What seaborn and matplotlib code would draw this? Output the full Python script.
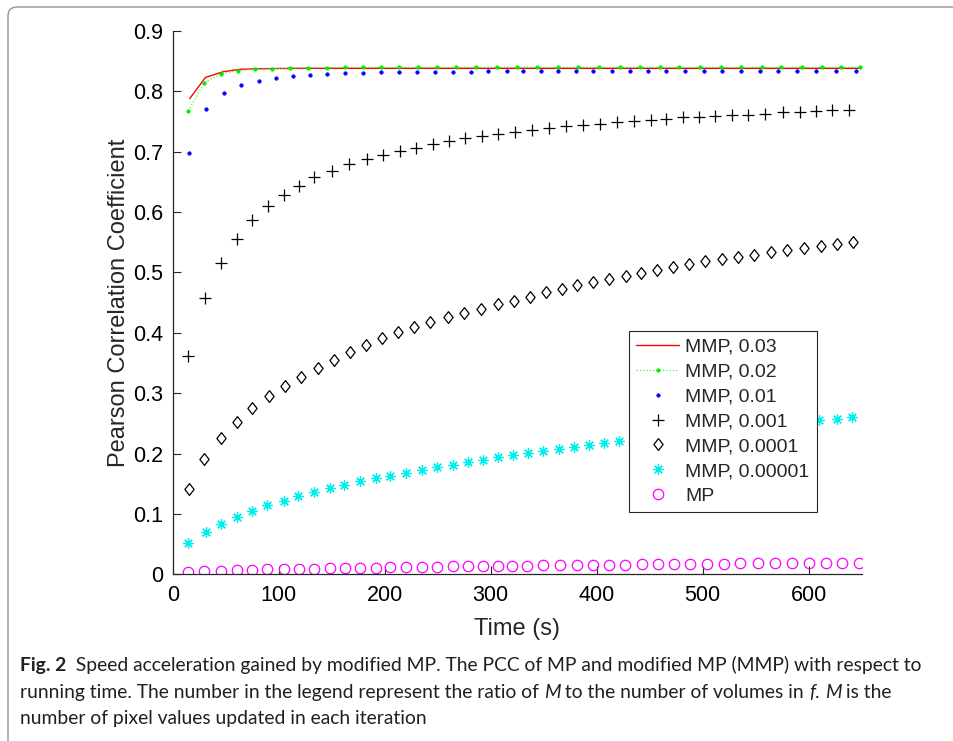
import matplotlib
matplotlib.use("Agg")
import matplotlib.pyplot as plt
from matplotlib.patches import FancyBboxPatch
from matplotlib.transforms import IdentityTransform
import seaborn as sns

# ---------------- data ----------------
red_t = [16, 31, 48, 64, 81, 98, 115, 132, 150, 167, 184, 202, 219, 237, 254, 272, 289, 307, 324,
         342, 359, 377, 394, 412, 429, 447, 464, 482, 499, 517, 534, 552, 569, 587, 604, 622, 639, 650]
red_v = [0.7875, 0.8228, 0.8322, 0.8361, 0.8370, 0.8374, 0.8376, 0.8377, 0.8377, 0.8377, 0.8377,
         0.8377, 0.8377, 0.8377, 0.8377, 0.8377, 0.8377, 0.8377, 0.8377, 0.8377, 0.8377, 0.8377,
         0.8377, 0.8377, 0.8377, 0.8377, 0.8377, 0.8377, 0.8377, 0.8377, 0.8377, 0.8377, 0.8377,
         0.8377, 0.8377, 0.8377, 0.8377, 0.8377]

green_t = [14.7, 29.8, 45.3, 61.9, 77.6, 94.0, 110.7, 127.7, 145.3, 162.3, 179.3, 196.2, 213.5,
           231.1, 249.6, 267.2, 285.8, 305.9, 325.0, 344.0, 363.8, 382.4, 402.2, 422.0, 440.8,
           459.4, 477.9, 497.7, 517.0, 535.8, 555.7, 573.6, 594.0, 612.5, 630.2, 648.7]
green_v = [0.767, 0.814, 0.828, 0.834, 0.836, 0.8372, 0.8377, 0.8388, 0.8390, 0.8392, 0.8394,
           0.8394, 0.8394, 0.8394, 0.8394, 0.8394, 0.8394, 0.8394, 0.8394, 0.8394, 0.8394, 0.8394,
           0.8394, 0.8394, 0.8394, 0.8394, 0.8394, 0.8394, 0.8394, 0.8394, 0.8394, 0.8394, 0.8394,
           0.8394, 0.8394, 0.8394]

blue_t = [15.4, 31.1, 48.1, 64.7, 81.1, 97.2, 113.2, 129.5, 145.8, 162.8, 179.8, 196.8, 213.5,
          230.8, 247.7, 264.4, 281.4, 297.7, 315.1, 330.8, 347.2, 363.2, 380.2, 396.8, 414.2,
          431.4, 448.7, 465.7, 483.3, 500.9, 518.5, 536.4, 554.0, 571.3, 589.0, 606.6, 626.0, 644.6]
blue_v = [0.698, 0.7709, 0.7975, 0.8101, 0.8172, 0.8217, 0.8250, 0.8267, 0.8283, 0.8294, 0.8305,
          0.8311, 0.8316, 0.8318, 0.8320, 0.8322, 0.8323, 0.8325, 0.8327, 0.8327, 0.8328, 0.8328,
          0.8328, 0.8328, 0.8328, 0.8328, 0.8328, 0.8328, 0.8328, 0.8328, 0.8328, 0.8328, 0.8328,
          0.8328, 0.8328, 0.8328, 0.8328, 0.8328]

plus_t = [14.7, 30.5, 45.6, 60.4, 75.1, 89.6, 104.7, 118.9, 133.6, 150.3, 166.6, 183.0, 198.7,
          214.4, 229.5, 245.6, 260.9, 276.0, 291.5, 307.2, 323.0, 338.7, 355.3, 371.0, 387.4,
          403.1, 419.2, 435.2, 450.9, 465.4, 481.4, 496.2, 511.9, 527.6, 542.5, 558.5, 575.5,
          591.5, 607.2, 622.3, 638.3]
plus_v = [0.3614, 0.4570, 0.5159, 0.5557, 0.5861, 0.6093, 0.6285, 0.6434, 0.6573, 0.6682, 0.6788,
          0.6871, 0.6942, 0.7008, 0.7063, 0.7124, 0.7169, 0.7219, 0.7257, 0.7295, 0.7328, 0.7361,
          0.7389, 0.7417, 0.7439, 0.7460, 0.7483, 0.7505, 0.7527, 0.7543, 0.7566, 0.7571, 0.7588,
          0.7604, 0.7610, 0.7626, 0.7649, 0.7654, 0.7671, 0.7682, 0.7687]

diam_t = [15.4, 29.8, 45.3, 60.7, 74.8, 90.6, 105.7, 121.0, 136.8, 152.2, 167.3, 182.4, 197.4,
          212.2, 228.0, 243.0, 259.4, 274.5, 290.8, 306.6, 322.0, 337.1, 352.2, 367.0, 381.7,
          396.8, 411.3, 427.6, 442.1, 457.2, 472.3, 486.8, 501.9, 517.9, 533.6, 548.7, 564.2,
          579.8, 595.3, 611.3, 626.7, 642.1]
diam_v = [0.1412, 0.1904, 0.2252, 0.2527, 0.2758, 0.2957, 0.3123, 0.3272, 0.3411, 0.3548, 0.3675,
          0.3796, 0.3912, 0.4006, 0.4089, 0.4172, 0.4255, 0.4331, 0.4397, 0.4475, 0.4533, 0.4597,
          0.4669, 0.4724, 0.4790, 0.4840, 0.4889, 0.4939, 0.4988, 0.5044, 0.5088, 0.5132, 0.5182,
          0.5220, 0.5253, 0.5292, 0.5331, 0.5369, 0.5397, 0.5435, 0.5463, 0.5497]

star_t = [14.7, 31.1, 45.6, 60.4, 74.5, 89.0, 104.7, 118.5, 133.6, 148.4, 161.9, 176.7, 191.5,
          205.3, 220.4, 235.5, 249.3, 264.1, 278.3, 292.7, 307.2, 321.3, 335.5, 349.6, 364.7,
          378.6, 393.0, 407.2, 421.3, 435.8, 450.3, 464.8, 479.4, 493.9, 508.4, 522.9, 537.4,
          551.9, 566.5, 581.0, 595.5, 610.0, 626.4, 640.6]
star_v = [0.0513, 0.0700, 0.0833, 0.0954, 0.1048, 0.1142, 0.1219, 0.1291, 0.1358, 0.1424, 0.1479,
          0.1540, 0.1589, 0.1633, 0.1682, 0.1732, 0.1771, 0.1810, 0.1859, 0.1892, 0.1937, 0.1972,
          0.2013, 0.2046, 0.2080, 0.2108, 0.2146, 0.2179, 0.2212, 0.2240, 0.2266, 0.2292, 0.2318,
          0.2343, 0.2368, 0.2393, 0.2418, 0.2443, 0.2467, 0.2491, 0.2523, 0.2555, 0.2571, 0.2599]

mp_t = [14.7, 29.8, 45.3, 60.4, 75.1, 89.3, 104.7, 118.9, 133.6, 148.4, 162.3, 176.7, 191.6,
        205.4, 220.4, 235.5, 249.4, 264.2, 278.4, 292.8, 307.3, 320.5, 334.5, 349.6, 365.4,
        381.1, 396.2, 411.6, 427.0, 442.5, 457.8, 472.6, 487.7, 503.8, 519.8, 535.5, 551.9,
        567.9, 584.2, 600.3, 616.0, 631.7, 647.5]
mp_v = [0.0044, 0.0050, 0.0060, 0.0070, 0.0075, 0.0080, 0.0085, 0.0090, 0.0095, 0.0100, 0.0105,
        0.0110, 0.0110, 0.0115, 0.0120, 0.0120, 0.0125, 0.0130, 0.0130, 0.0135, 0.0140, 0.0140,
        0.0145, 0.0150, 0.0150, 0.0155, 0.0155, 0.0160, 0.0160, 0.0165, 0.0165, 0.0170, 0.0170,
        0.0175, 0.0175, 0.0180, 0.0180, 0.0180, 0.0185, 0.0185, 0.0190, 0.0190, 0.0192]

labels = ["MMP, 0.03", "MMP, 0.02", "MMP, 0.01", "MMP, 0.001", "MMP, 0.0001", "MMP, 0.00001", "MP"]
x_ticks = [0, 100, 200, 300, 400, 500, 600]
y_ticks = [0, 0.1, 0.2, 0.3, 0.4, 0.5, 0.6, 0.7, 0.8, 0.9]
x_label = "Time (s)"
y_label = "Pearson Correlation Coefficient"
caption_lines = [
    [("Fig. 2", "b"), ("  Speed acceleration gained by modified MP. The PCC of MP and modified MP (MMP) with respect to", "n")],
    [("running time. The number in the legend represent the ratio of ", "n"), ("M", "i"),
     (" to the number of volumes in ", "n"), ("f", "i"), (". ", "n"), ("M", "i"), (" is the", "n")],
    [("number of pixel values updated in each iteration", "n")],
]

# ---------------- style ----------------
sns.set_style("ticks")
plt.rcParams["font.family"] = ["Liberation Sans", "DejaVu Sans"]

W, H = 954, 741
fig = plt.figure(figsize=(W / 100, H / 100), dpi=100)
fig.patch.set_facecolor("white")

ax_l, ax_r = 172.7, 861.7
ax_top, ax_bot = 30.7, 574.3
ax = fig.add_axes([ax_l / W, 1 - ax_bot / H, (ax_r - ax_l) / W, (ax_bot - ax_top) / H])
ax.set_facecolor("white")

axc = "#262626"
sns.lineplot(x=red_t, y=red_v, ax=ax, color="#ff0000", linewidth=1.0, label=labels[0],
             errorbar=None, sort=False)
sns.lineplot(x=green_t, y=green_v, ax=ax, color="#33ff33", linewidth=0.9, linestyle=":",
             marker=".", markersize=5, markeredgecolor="#00ee00", markerfacecolor="#00ee00",
             markeredgewidth=0.5, label=labels[1], errorbar=None, sort=False)
sns.lineplot(x=blue_t, y=blue_v, ax=ax, color="#0000ff", linestyle="", marker=".", markersize=5,
             markeredgecolor="#0000ff", markerfacecolor="#0000ff", markeredgewidth=0.5,
             label=labels[2], errorbar=None, sort=False)
sns.lineplot(x=plus_t, y=plus_v, ax=ax, color="black", linestyle="", marker="+", markersize=9,
             markeredgecolor="black", markeredgewidth=0.9, label=labels[3], errorbar=None, sort=False)
diamond = [(0, 1), (0.78, 0), (0, -1), (-0.78, 0), (0, 1)]
sns.lineplot(x=diam_t, y=diam_v, ax=ax, color="black", linestyle="", marker=diamond, markersize=8.5,
             markeredgecolor="black", markerfacecolor="none", markeredgewidth=0.9,
             label=labels[4], errorbar=None, sort=False)
sns.lineplot(x=star_t, y=star_v, ax=ax, color="#00ffff", linestyle="", marker=(8, 2, 0), markersize=7.5,
             markeredgecolor="#00eeee", markeredgewidth=0.9, label=labels[5], errorbar=None, sort=False)
sns.lineplot(x=mp_t, y=mp_v, ax=ax, color="#ff00ff", linestyle="", marker="o", markersize=7.5,
             markeredgecolor="#ff00ff", markerfacecolor="none", markeredgewidth=0.9,
             label=labels[6], errorbar=None, sort=False)

ax.set_xlim(0, 650)
ax.set_ylim(0, 0.9)
ax.set_xticks(x_ticks)
ax.set_yticks(y_ticks)
ax.set_xticklabels([str(v) for v in x_ticks])
ax.set_yticklabels(["0" if v == 0 else f"{v:.1f}" for v in y_ticks])
ax.tick_params(axis="both", direction="in", length=6, width=0.8, color=axc, labelsize=15.5,
               labelcolor="black")
ax.tick_params(axis="x", pad=8)
ax.tick_params(axis="y", pad=7)
for s in ["top", "right"]:
    ax.spines[s].set_visible(False)
for s in ["left", "bottom"]:
    ax.spines[s].set_color(axc)
    ax.spines[s].set_linewidth(0.9)
ax.set_xlabel(x_label, fontsize=17, labelpad=8)
ax.set_ylabel(y_label, fontsize=17, labelpad=2)

leg = ax.legend(loc="upper left", bbox_to_anchor=(0.6623, 0.4476), borderaxespad=0,
                fontsize=14, frameon=True, fancybox=False, handlelength=2.2,
                handletextpad=0.3, labelspacing=0.37, borderpad=0.38, numpoints=1)
leg.get_frame().set_edgecolor(axc)
leg.get_frame().set_linewidth(0.8)
leg.get_frame().set_facecolor("white")
leg.get_frame().set_alpha(1)

# ---------------- border ----------------
border = FancyBboxPatch((8, -30), 1100, 734 + 30, boxstyle="round,pad=0,rounding_size=9",
                        transform=IdentityTransform(), fill=False, edgecolor="#8a8a8a",
                        linewidth=0.9)
fig.patches.append(border)

# ---------------- caption ----------------
cap_family = ["Lato", "DejaVu Sans"]
cap_color = "#231f20"
renderer = fig.canvas.get_renderer()


def piece_width(text, style, size):
    t1 = fig.text(0, 0, text + "|", fontsize=size, family=cap_family,
                  fontweight="bold" if style == "b" else "normal",
                  fontstyle="italic" if style == "i" else "normal")
    t2 = fig.text(0, 0, "|", fontsize=size, family=cap_family)
    w = t1.get_window_extent(renderer).width - t2.get_window_extent(renderer).width
    t1.remove()
    t2.remove()
    return w


base = 10.0
w1 = sum(piece_width(tx, st, base) for tx, st in caption_lines[0])
cap_size = base * (905.0 / w1)

baselines = [671, 698, 724]
for line, yb in zip(caption_lines, baselines):
    x = 20.0
    for tx, st in line:
        fig.text(x / W, 1 - yb / H, tx, fontsize=cap_size, family=cap_family, color=cap_color,
                 fontweight="bold" if st == "b" else "normal",
                 fontstyle="italic" if st == "i" else "normal", ha="left", va="baseline")
        x += piece_width(tx, st, cap_size)

fig.savefig("out.png", dpi=100, facecolor="white")
